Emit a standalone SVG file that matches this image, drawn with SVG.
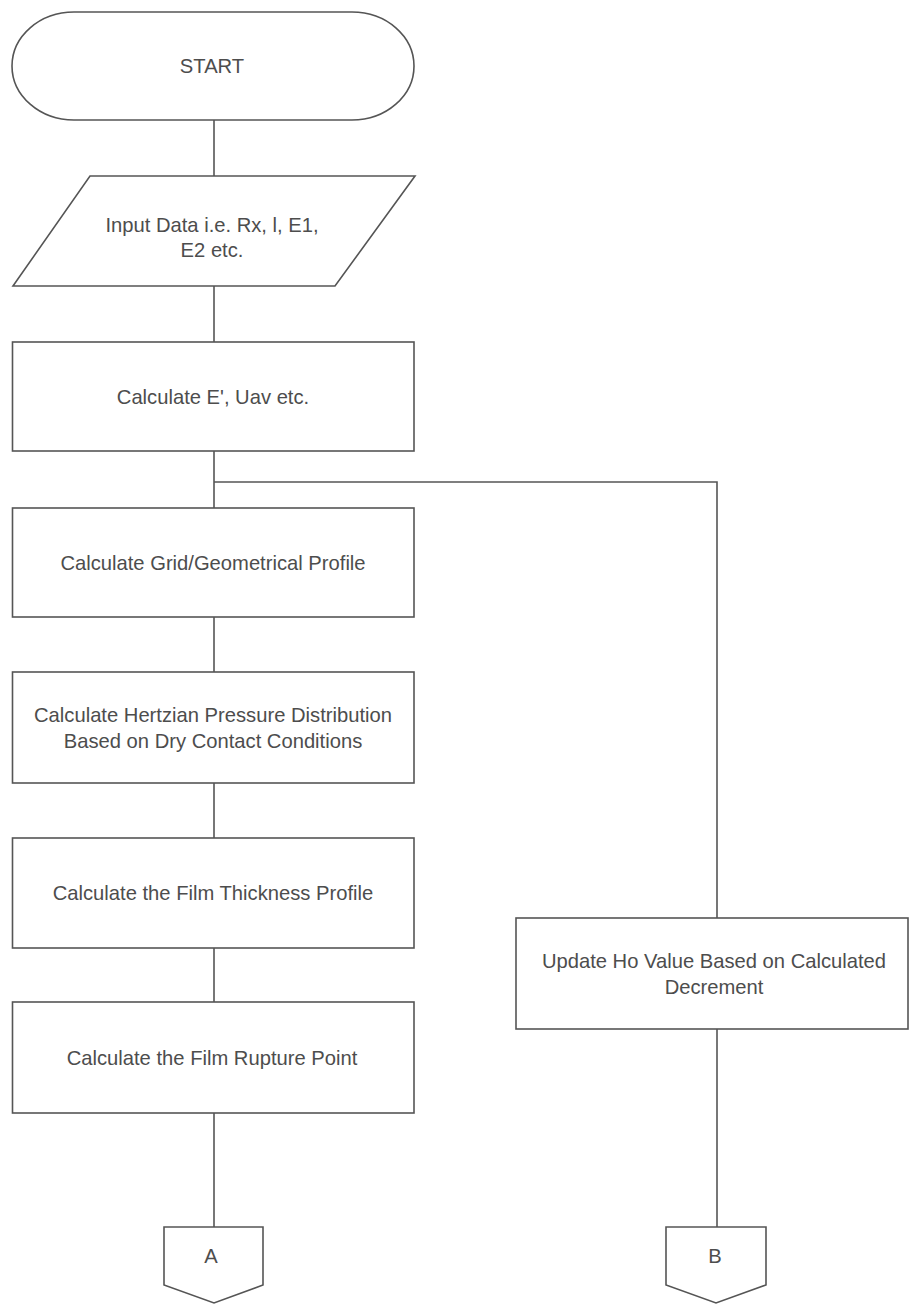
<svg xmlns="http://www.w3.org/2000/svg" width="909" height="1304" viewBox="0 0 909 1304">
  <style>
    .shape { fill: #ffffff; stroke: #555555; stroke-width: 1.6; }
    .wire { fill: none; stroke: #555555; stroke-width: 1.6; }
    .label { font-family: "Liberation Sans", Arial, sans-serif; font-size: 20.2px; fill: #4d4d4d; text-anchor: middle; }
  </style>
  <rect width="909" height="1304" fill="#ffffff"/>

  <!-- connectors -->
  <g id="connectors">
    <line class="wire" x1="214" y1="120" x2="214" y2="176"/>
    <line class="wire" x1="214" y1="286" x2="214" y2="342"/>
    <line class="wire" x1="214" y1="451" x2="214" y2="508"/>
    <polyline class="wire" points="214,482 717,482 717,918"/>
    <line class="wire" x1="214" y1="617" x2="214" y2="672"/>
    <line class="wire" x1="214" y1="783" x2="214" y2="838"/>
    <line class="wire" x1="214" y1="948" x2="214" y2="1002"/>
    <line class="wire" x1="214" y1="1113" x2="214" y2="1227"/>
    <line class="wire" x1="717" y1="1029" x2="717" y2="1227"/>
  </g>

  <!-- terminal -->
  <g id="start">
    <rect class="shape" x="12" y="12" width="402" height="108" rx="62" ry="54"/>
    <text class="label" x="212" y="73">START</text>
  </g>

  <!-- input -->
  <g id="input">
    <polygon class="shape" points="90,176 415,176 335,286 13,286"/>
    <text class="label" x="212" y="232">Input Data i.e. Rx, l, E1,</text>
    <text class="label" x="212" y="257">E2 etc.</text>
  </g>

  <g id="calc-e">
    <rect class="shape" x="12.5" y="342" width="401.5" height="109"/>
    <text class="label" x="213" y="404">Calculate E', Uav etc.</text>
  </g>

  <g id="calc-grid">
    <rect class="shape" x="12.5" y="508" width="401.5" height="109"/>
    <text class="label" x="213" y="570">Calculate Grid/Geometrical Profile</text>
  </g>

  <g id="calc-hertz">
    <rect class="shape" x="12.5" y="672" width="401.5" height="111"/>
    <text class="label" x="213" y="722">Calculate Hertzian Pressure Distribution</text>
    <text class="label" x="213" y="748">Based on Dry Contact Conditions</text>
  </g>

  <g id="calc-thickness">
    <rect class="shape" x="12.5" y="838" width="401.5" height="110"/>
    <text class="label" x="213" y="900">Calculate the Film Thickness Profile</text>
  </g>

  <g id="calc-rupture">
    <rect class="shape" x="12.5" y="1002" width="401.5" height="111"/>
    <text class="label" x="212" y="1065">Calculate the Film Rupture Point</text>
  </g>

  <g id="update-ho">
    <rect class="shape" x="516" y="918" width="392" height="111"/>
    <text class="label" x="714" y="968">Update Ho Value Based on Calculated</text>
    <text class="label" x="714" y="994">Decrement</text>
  </g>

  <!-- off-page references -->
  <g id="ref-a">
    <polygon class="shape" points="164,1227 263,1227 263,1285 214,1303 164,1285"/>
    <text class="label" x="211" y="1263">A</text>
  </g>

  <g id="ref-b">
    <polygon class="shape" points="666,1227 766,1227 766,1285 716,1303 666,1285"/>
    <text class="label" x="715" y="1263">B</text>
  </g>
</svg>
